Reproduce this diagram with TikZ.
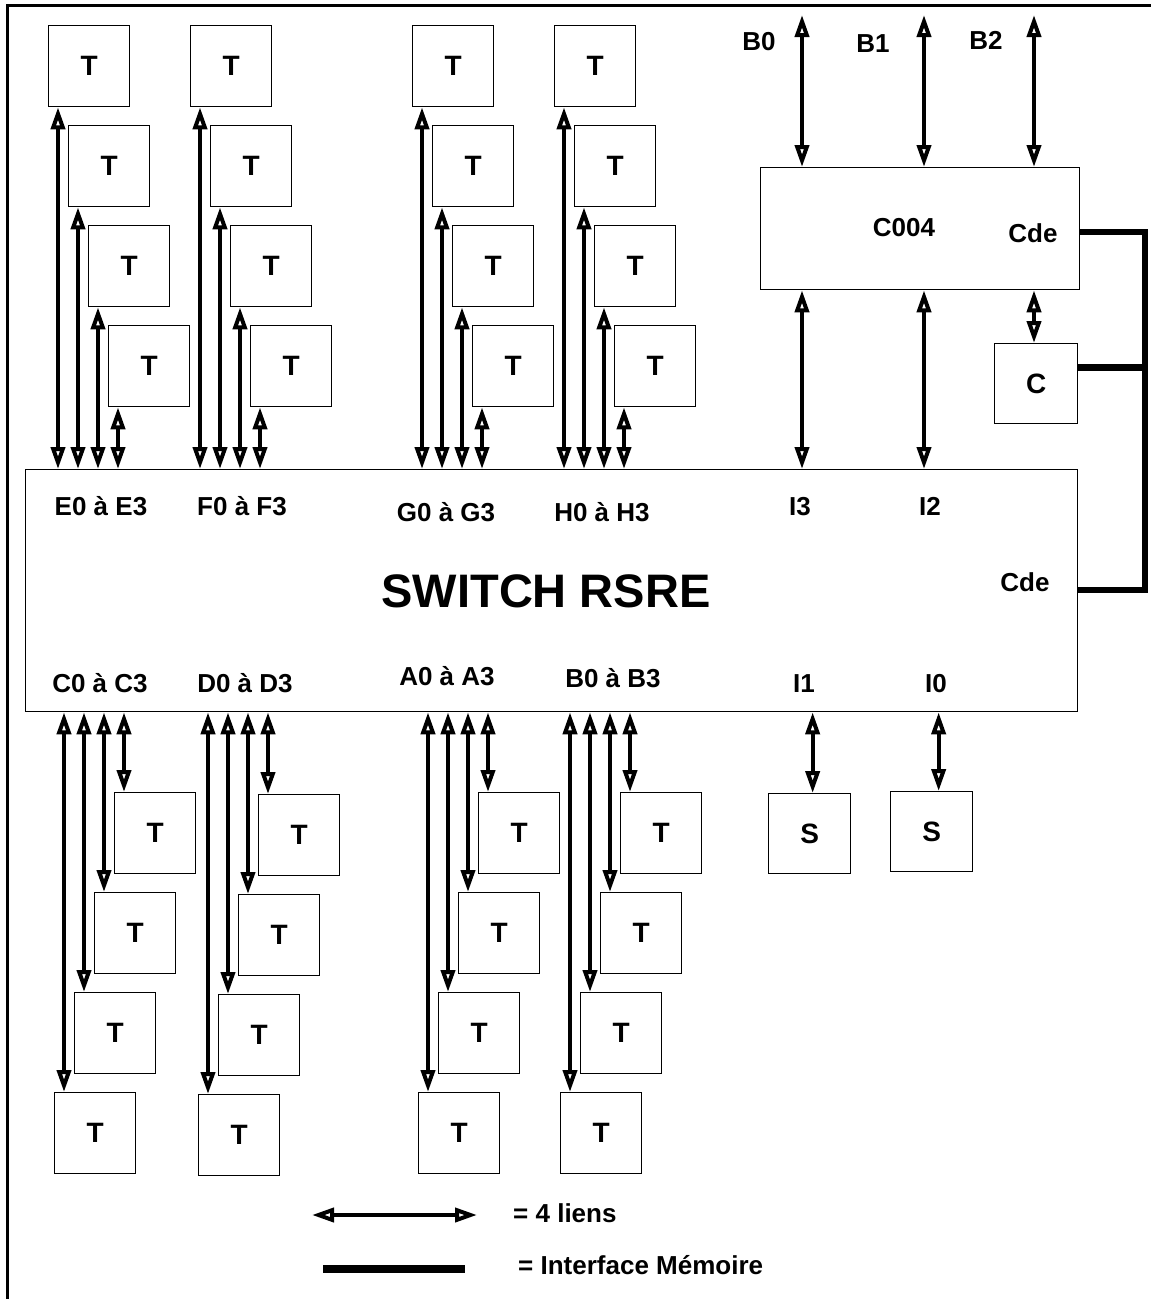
\documentclass[tikz,border=0pt]{standalone}
\usepackage{fontspec}
\setmainfont{Liberation Sans}
\usetikzlibrary{arrows.meta}

\begin{document}
\begin{tikzpicture}[
  x=1pt, y=-1pt,
  >={Triangle[open, length=22pt, width=14pt]},
  blk/.style={draw, line width=1.3pt, inner sep=0pt, anchor=north west,
    font=\fontsize{28}{30}\selectfont\bfseries},
  tbox/.style={blk, minimum width=81pt, minimum height=81pt},
  lbl/.style={font=\fontsize{26}{30}\selectfont\bfseries, anchor=base, inner sep=0pt},
  link/.style={<->, line width=4pt},
  memline/.style={line width=6.5pt},
]

% Page size
\useasboundingbox (0,0) rectangle (1151,1299);

% Frame (left and top only)
\draw[line width=3pt] (7,1299) -- (7,5) -- (1151,5);

% --- Switch ---
\node[blk, minimum width=1052pt, minimum height=242pt] (sw) at (25,469) {};
\node[font=\fontsize{47}{50}\selectfont\bfseries, anchor=base] (swname) at (546,607) {SWITCH RSRE};
\node[lbl] (lE) at (101,515) {E0 à E3};
\node[lbl] (lF) at (242,515) {F0 à F3};
\node[lbl] (lG) at (446,521) {G0 à G3};
\node[lbl] (lH) at (602,521) {H0 à H3};
\node[lbl] (lI3) at (800,515) {I3};
\node[lbl] (lI2) at (930,515) {I2};
\node[lbl] (lC) at (100,692) {C0 à C3};
\node[lbl] (lD) at (245,692) {D0 à D3};
\node[lbl] (lA) at (447,685) {A0 à A3};
\node[lbl] (lB) at (613,687) {B0 à B3};
\node[lbl] (lI1) at (804,692) {I1};
\node[lbl] (lI0) at (936,692) {I0};
\node[lbl] (swcde) at (1025,591) {Cde};

% --- Group E (top) ---
\pgfmathsetmacro{\gx}{48}
\node[tbox] (e1) at (\gx,25) {T};
\node[tbox] (e2) at (\gx+20,125) {T};
\node[tbox] (e3) at (\gx+40,225) {T};
\node[tbox] (e4) at (\gx+60,325) {T};
\draw[link] ([xshift=10pt]e1.south west) -- ([xshift=10pt]e1.south west |- sw.north);
\draw[link] ([xshift=10pt]e2.south west) -- ([xshift=10pt]e2.south west |- sw.north);
\draw[link] ([xshift=10pt]e3.south west) -- ([xshift=10pt]e3.south west |- sw.north);
\draw[link] ([xshift=10pt]e4.south west) -- ([xshift=10pt]e4.south west |- sw.north);

% --- Group F (top) ---
\pgfmathsetmacro{\gx}{190}
\node[tbox] (f1) at (\gx,25) {T};
\node[tbox] (f2) at (\gx+20,125) {T};
\node[tbox] (f3) at (\gx+40,225) {T};
\node[tbox] (f4) at (\gx+60,325) {T};
\draw[link] ([xshift=10pt]f1.south west) -- ([xshift=10pt]f1.south west |- sw.north);
\draw[link] ([xshift=10pt]f2.south west) -- ([xshift=10pt]f2.south west |- sw.north);
\draw[link] ([xshift=10pt]f3.south west) -- ([xshift=10pt]f3.south west |- sw.north);
\draw[link] ([xshift=10pt]f4.south west) -- ([xshift=10pt]f4.south west |- sw.north);

% --- Group G (top) ---
\pgfmathsetmacro{\gx}{412}
\node[tbox] (g1) at (\gx,25) {T};
\node[tbox] (g2) at (\gx+20,125) {T};
\node[tbox] (g3) at (\gx+40,225) {T};
\node[tbox] (g4) at (\gx+60,325) {T};
\draw[link] ([xshift=10pt]g1.south west) -- ([xshift=10pt]g1.south west |- sw.north);
\draw[link] ([xshift=10pt]g2.south west) -- ([xshift=10pt]g2.south west |- sw.north);
\draw[link] ([xshift=10pt]g3.south west) -- ([xshift=10pt]g3.south west |- sw.north);
\draw[link] ([xshift=10pt]g4.south west) -- ([xshift=10pt]g4.south west |- sw.north);

% --- Group H (top) ---
\pgfmathsetmacro{\gx}{554}
\node[tbox] (h1) at (\gx,25) {T};
\node[tbox] (h2) at (\gx+20,125) {T};
\node[tbox] (h3) at (\gx+40,225) {T};
\node[tbox] (h4) at (\gx+60,325) {T};
\draw[link] ([xshift=10pt]h1.south west) -- ([xshift=10pt]h1.south west |- sw.north);
\draw[link] ([xshift=10pt]h2.south west) -- ([xshift=10pt]h2.south west |- sw.north);
\draw[link] ([xshift=10pt]h3.south west) -- ([xshift=10pt]h3.south west |- sw.north);
\draw[link] ([xshift=10pt]h4.south west) -- ([xshift=10pt]h4.south west |- sw.north);

% --- Group C (bottom) ---
\pgfmathsetmacro{\gx}{114}
\pgfmathsetmacro{\gy}{792}
\node[tbox] (c1) at (\gx,\gy) {T};
\node[tbox] (c2) at (\gx-20,\gy+100) {T};
\node[tbox] (c3) at (\gx-40,\gy+200) {T};
\node[tbox] (c4) at (\gx-60,\gy+300) {T};
\draw[link] ([xshift=10pt]c1.north west |- sw.south) -- ([xshift=10pt]c1.north west);
\draw[link] ([xshift=10pt]c2.north west |- sw.south) -- ([xshift=10pt]c2.north west);
\draw[link] ([xshift=10pt]c3.north west |- sw.south) -- ([xshift=10pt]c3.north west);
\draw[link] ([xshift=10pt]c4.north west |- sw.south) -- ([xshift=10pt]c4.north west);

% --- Group D (bottom) ---
\pgfmathsetmacro{\gx}{258}
\pgfmathsetmacro{\gy}{794}
\node[tbox] (d1) at (\gx,\gy) {T};
\node[tbox] (d2) at (\gx-20,\gy+100) {T};
\node[tbox] (d3) at (\gx-40,\gy+200) {T};
\node[tbox] (d4) at (\gx-60,\gy+300) {T};
\draw[link] ([xshift=10pt]d1.north west |- sw.south) -- ([xshift=10pt]d1.north west);
\draw[link] ([xshift=10pt]d2.north west |- sw.south) -- ([xshift=10pt]d2.north west);
\draw[link] ([xshift=10pt]d3.north west |- sw.south) -- ([xshift=10pt]d3.north west);
\draw[link] ([xshift=10pt]d4.north west |- sw.south) -- ([xshift=10pt]d4.north west);

% --- Group A (bottom) ---
\pgfmathsetmacro{\gx}{478}
\pgfmathsetmacro{\gy}{792}
\node[tbox] (a1) at (\gx,\gy) {T};
\node[tbox] (a2) at (\gx-20,\gy+100) {T};
\node[tbox] (a3) at (\gx-40,\gy+200) {T};
\node[tbox] (a4) at (\gx-60,\gy+300) {T};
\draw[link] ([xshift=10pt]a1.north west |- sw.south) -- ([xshift=10pt]a1.north west);
\draw[link] ([xshift=10pt]a2.north west |- sw.south) -- ([xshift=10pt]a2.north west);
\draw[link] ([xshift=10pt]a3.north west |- sw.south) -- ([xshift=10pt]a3.north west);
\draw[link] ([xshift=10pt]a4.north west |- sw.south) -- ([xshift=10pt]a4.north west);

% --- Group B (bottom) ---
\pgfmathsetmacro{\gx}{620}
\pgfmathsetmacro{\gy}{792}
\node[tbox] (bb1) at (\gx,\gy) {T};
\node[tbox] (bb2) at (\gx-20,\gy+100) {T};
\node[tbox] (bb3) at (\gx-40,\gy+200) {T};
\node[tbox] (bb4) at (\gx-60,\gy+300) {T};
\draw[link] ([xshift=10pt]bb1.north west |- sw.south) -- ([xshift=10pt]bb1.north west);
\draw[link] ([xshift=10pt]bb2.north west |- sw.south) -- ([xshift=10pt]bb2.north west);
\draw[link] ([xshift=10pt]bb3.north west |- sw.south) -- ([xshift=10pt]bb3.north west);
\draw[link] ([xshift=10pt]bb4.north west |- sw.south) -- ([xshift=10pt]bb4.north west);

% --- C004 and its links ---
\node[blk, minimum width=319pt, minimum height=122pt] (ctl) at (760,167) {};
\node[lbl] (ctlname) at (904,236) {C004};
\node[lbl] (ctlcde) at (1033,242) {Cde};
\node[lbl] (b0) at (759,50) {B0};
\node[lbl] (b1) at (873,52) {B1};
\node[lbl] (b2) at (986,49) {B2};
\coordinate (b0end) at (802,15);
\coordinate (b1end) at (924,15);
\coordinate (b2end) at (1034,15);
\draw[link] (b0end) -- (b0end |- ctl.north);
\draw[link] (b1end) -- (b1end |- ctl.north);
\draw[link] (b2end) -- (b2end |- ctl.north);
\draw[link] (b0end |- ctl.south) -- (b0end |- sw.north);
\draw[link] (b1end |- ctl.south) -- (b1end |- sw.north);

% --- C box ---
\node[blk, minimum width=83pt, minimum height=80pt] (cbox) at (994,343) {C};
\draw[link] (b2end |- ctl.south) -- (b2end |- cbox.north);

% --- S boxes ---
\node[blk, minimum width=82pt, minimum height=80pt] (s1) at (768,793) {S};
\node[blk, minimum width=82pt, minimum height=80pt] (s0) at (890,791) {S};
\draw[link] ([xshift=3pt]s1.north |- sw.south) -- ([xshift=3pt]s1.north);
\draw[link] ([xshift=7pt]s0.north |- sw.south) -- ([xshift=7pt]s0.north);

% --- Memory interface bus ---
\coordinate (busT) at (1145,232);
\coordinate (busB) at (1145,590);
\draw[memline] (ctl.east |- busT) -- (busT) -- (busB) -- (sw.east |- busB);
\draw[memline] ([yshift=16pt]cbox.east) -- ([yshift=16pt]cbox.east -| busT);

% --- Legend ---
\coordinate (lgA) at (312,1215);
\coordinate (lgB) at (477,1215);
\draw[link] (lgA) -- (lgB);
\node[lbl, anchor=base west] (lg1) at (513,1222) {= 4 liens};
\coordinate (lgC) at (323,1269);
\coordinate (lgD) at (465,1269);
\draw[line width=8pt] (lgC) -- (lgD);
\node[lbl, anchor=base west] (lg2) at (518,1274) {= Interface Mémoire};

\end{tikzpicture}
\end{document}
